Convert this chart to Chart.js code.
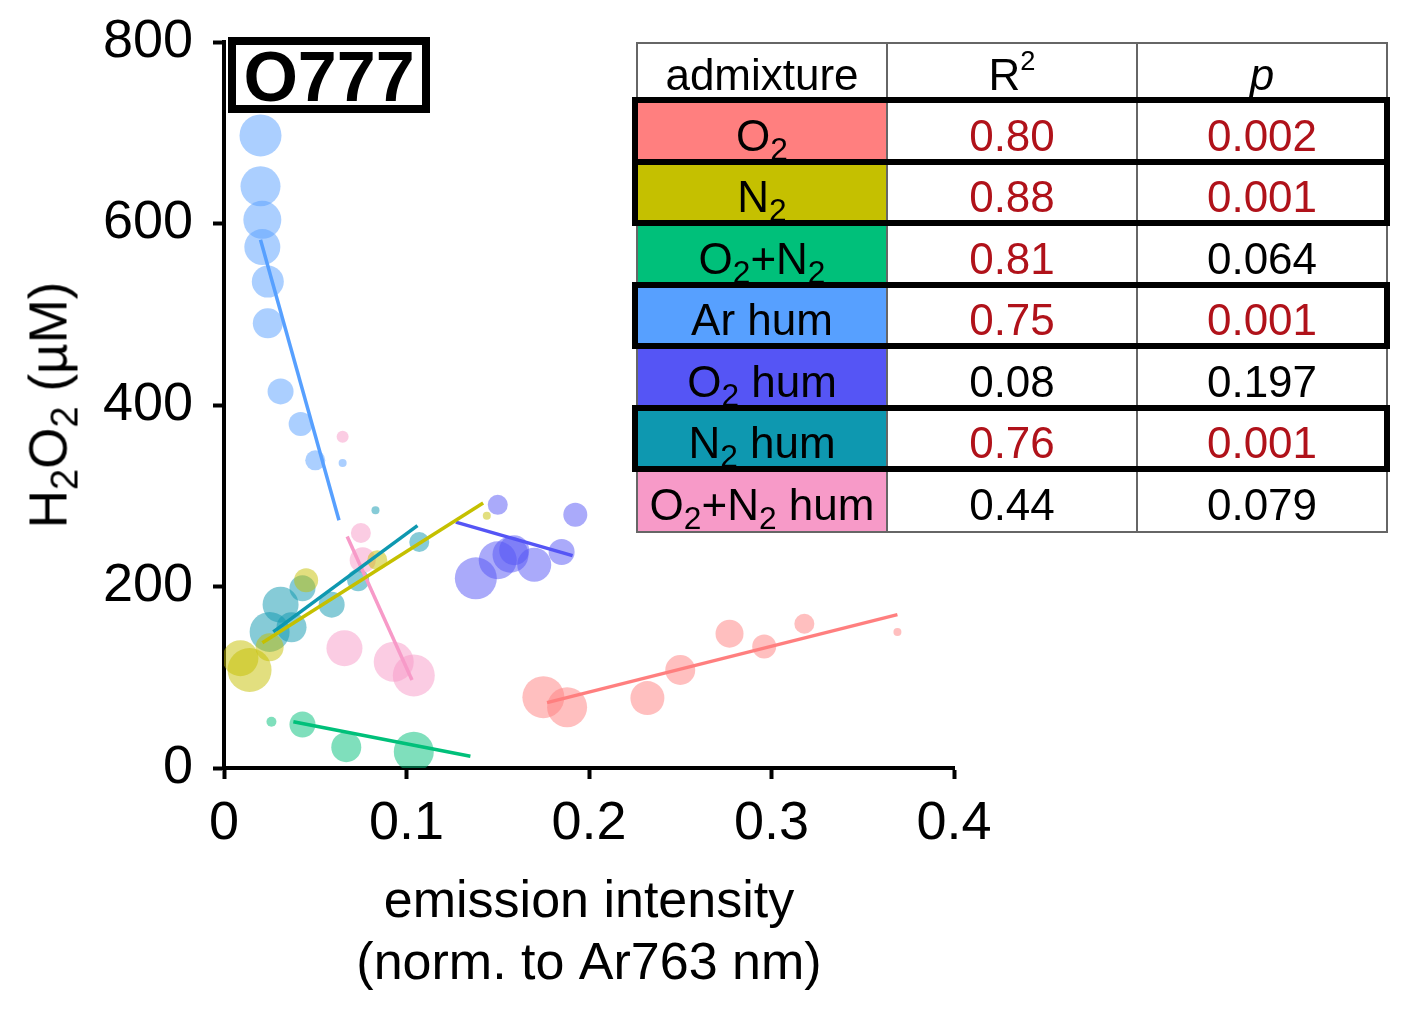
<!DOCTYPE html>
<html>
<head>
<meta charset="utf-8">
<script src="https://cdn.jsdelivr.net/npm/chart.js@4.4.0/dist/chart.umd.min.js"></script>
<style>
  html, body { margin: 0; padding: 0; background: #fff; }
  #wrap { position: relative; width: 1411px; height: 1010px; font-family: "Liberation Sans", Arial, sans-serif; }
  #chart { position: absolute; left: 0; top: 0; }
  sub { font-size: 0.72em; vertical-align: -0.28em; line-height: 0; }
  sup { font-size: 0.62em; vertical-align: 0.75em; line-height: 0; }
  #ytitle {
    position: absolute; left: 48px; top: 405px; white-space: nowrap;
    font-size: 53px; color: #000;
    transform: translate(-50%, -50%) rotate(-90deg);
  }
  #tag {
    position: absolute; left: 228px; top: 37px; width: 186px; height: 60px;
    border: 8px solid #000; background: #fff;
    font-weight: bold; font-size: 70px; line-height: 65px; text-align: center;
    overflow: visible;
  }
  #stats { position: absolute; left: 636px; top: 42px; width: 750px; }
  #stats table { border-collapse: collapse; table-layout: fixed; width: 750px; }
  #stats td { border: 2px solid #666; text-align: center; font-size: 44px; padding: 0; color: #000; white-space: nowrap; box-sizing: border-box; }
  #stats tr.head td { height: 58px; padding-top: 6px; }
  #stats tr.row td { height: 61.5px; padding-top: 8px; }
  .hot { color: #b0121a !important; }
  .frame { position: absolute; border: 6px solid #000; box-sizing: border-box; pointer-events: none; }
</style>
</head>
<body>
<div id="wrap">
  <canvas id="chart" width="1411" height="1010"></canvas>
  <div id="ytitle">H<sub>2</sub>O<sub>2</sub> (µM)</div>
  <div id="tag">O777</div>
  <div id="stats"></div>
</div>
<script>
// series: x = emission intensity, y = H2O2 (uM), size = bubble radius
const seriesNames = ["O2", "N2", "O2+N2", "Ar hum", "O2 hum", "N2 hum", "O2+N2 hum"];
const seriesColors = ["#ff7f7f", "#c5c000", "#00c07a", "#57a0ff", "#5555f5", "#0e98b0", "#f79ac8"];

const o2X = [0.175, 0.188, 0.232, 0.250, 0.277, 0.296, 0.318, 0.369];
const o2Y = [78, 67, 77, 108, 148, 134, 159, 150];
const o2Size = [21, 20, 17, 15, 14, 12, 10, 4];
const o2FitX = [0.177, 0.369];
const o2FitY = [72, 169];

const n2X = [0.009, 0.014, 0.025, 0.045, 0.084, 0.144];
const n2Y = [121, 108, 133, 207, 229, 278];
const n2Size = [18, 22, 14, 12, 10, 4];
const n2FitX = [0.021, 0.142];
const n2FitY = [138, 292];

const o2n2X = [0.026, 0.043, 0.067, 0.104];
const o2n2Y = [51, 48, 23, 18];
const o2n2Size = [5, 13, 15, 20];
const o2n2FitX = [0.038, 0.135];
const o2n2FitY = [51, 13];

const arHumX = [0.020, 0.020, 0.021, 0.021, 0.024, 0.024, 0.031, 0.042, 0.050, 0.065];
const arHumY = [697, 641, 604, 574, 536, 490, 415, 379, 339, 336];
const arHumSize = [21, 20, 19, 18, 16, 15, 13, 12, 10, 4];
const arHumFitX = [0.020, 0.063];
const arHumFitY = [582, 273];

const o2HumX = [0.138, 0.150, 0.157, 0.159, 0.170, 0.185, 0.150, 0.1925];
const o2HumY = [209, 229, 235, 240, 224, 238, 290, 279];
const o2HumSize = [21, 19, 18, 15, 17, 13, 10, 12];
const o2HumFitX = [0.127, 0.191];
const o2HumFitY = [271, 234];

const n2HumX = [0.025, 0.031, 0.037, 0.043, 0.059, 0.0735, 0.107, 0.083];
const n2HumY = [150, 180, 155, 198, 180, 207, 249, 284];
const n2HumSize = [20, 18, 15, 13, 13, 11, 10, 4];
const n2HumFitX = [0.027, 0.106];
const n2HumFitY = [150, 267];

const o2n2HumX = [0.065, 0.075, 0.076, 0.066, 0.093, 0.104];
const o2n2HumY = [365, 259, 229, 132, 117, 102];
const o2n2HumSize = [6, 10, 13, 18, 20, 21];
const o2n2HumFitX = [0.0675, 0.103];
const o2n2HumFitY = [255, 97];

const r2Values = ["0.80", "0.88", "0.81", "0.75", "0.08", "0.76", "0.44"];
const pValues = ["0.002", "0.001", "0.064", "0.001", "0.197", "0.001", "0.079"];

const xTicks = [0, 0.1, 0.2, 0.3, 0.4];
const yTicks = [0, 200, 400, 600, 800];

const allX = [o2X, n2X, o2n2X, arHumX, o2HumX, n2HumX, o2n2HumX];
const allY = [o2Y, n2Y, o2n2Y, arHumY, o2HumY, n2HumY, o2n2HumY];
const allSize = [o2Size, n2Size, o2n2Size, arHumSize, o2HumSize, n2HumSize, o2n2HumSize];
const allFitX = [o2FitX, n2FitX, o2n2FitX, arHumFitX, o2HumFitX, n2HumFitX, o2n2HumFitX];
const allFitY = [o2FitY, n2FitY, o2n2FitY, arHumFitY, o2HumFitY, n2HumFitY, o2n2HumFitY];

function withAlpha(hex, a) {
    const n = parseInt(hex.slice(1), 16);
    return `rgba(${(n >> 16) & 255}, ${(n >> 8) & 255}, ${n & 255}, ${a})`;
}

function subscriptify(name) {
    return name.replace(/([A-Za-z])2/g, "$1<sub>2</sub>");
}

const datasets = [];
seriesNames.forEach((name, i) => {
    datasets.push({
        type: "line",
        label: name + " fit",
        data: allFitX[i].map((x, k) => ({ x: x, y: allFitY[i][k] })),
        borderColor: seriesColors[i],
        borderWidth: 3.5,
        pointRadius: 0,
        fill: false,
        order: 0
    });
    datasets.push({
        type: "bubble",
        label: name,
        data: allX[i].map((x, k) => ({ x: x, y: allY[i][k], r: allSize[i][k] })),
        backgroundColor: withAlpha(seriesColors[i], 0.5),
        borderWidth: 0,
        order: 1
    });
});

Chart.defaults.font.family = "'Liberation Sans', Arial, sans-serif";
Chart.defaults.color = "#000";

new Chart(document.getElementById("chart"), {
    type: "bubble",
    data: { datasets: datasets },
    options: {
        responsive: false,
        animation: false,
        layout: { padding: { left: 0, top: 42, right: 457, bottom: 0 } },
        plugins: { legend: { display: false }, tooltip: { enabled: false } },
        scales: {
            x: {
                type: "linear",
                min: xTicks[0],
                max: xTicks[xTicks.length - 1],
                afterBuildTicks: s => { s.ticks = xTicks.map(v => ({ value: v })); },
                afterFit: s => { s.height = 242; },
                border: { color: "#000", width: 4 },
                grid: { drawOnChartArea: false, drawTicks: true, tickLength: 11, tickWidth: 4, tickColor: "#000" },
                ticks: { font: { size: 54 }, padding: 13, maxRotation: 0 },
                title: {
                    display: true,
                    text: ["emission intensity", "(norm. to Ar763 nm)"],
                    font: { size: 52, lineHeight: 1.2 },
                    padding: { top: 0, bottom: 14 }
                }
            },
            y: {
                type: "linear",
                min: yTicks[0],
                max: yTicks[yTicks.length - 1],
                afterBuildTicks: s => { s.ticks = yTicks.map(v => ({ value: v })); },
                afterFit: s => { s.width = 224; },
                border: { color: "#000", width: 4 },
                grid: { drawOnChartArea: false, drawTicks: true, tickLength: 11, tickWidth: 4, tickColor: "#000" },
                ticks: { font: { size: 54, lineHeight: 0.8 }, padding: 20 }
            }
        }
    }
});

// statistics table (R² and p per admixture)
const headH = 58, rowH = 61.5;
let html = '<table><colgroup><col style="width:250px"><col style="width:250px"><col style="width:250px"></colgroup>';
html += '<tr class="head"><td>admixture</td><td>R<sup>2</sup></td><td><i>p</i></td></tr>';
seriesNames.forEach((name, i) => {
    const r2Hot = parseFloat(r2Values[i]) >= 0.5 ? "hot" : "";
    const pHot = parseFloat(pValues[i]) < 0.05 ? "hot" : "";
    html += `<tr class="row"><td style="background:${seriesColors[i]}">${subscriptify(name)}</td>` +
            `<td class="${r2Hot}">${r2Values[i]}</td><td class="${pHot}">${pValues[i]}</td></tr>`;
});
html += "</table>";
const stats = document.getElementById("stats");
stats.innerHTML = html;

seriesNames.forEach((name, i) => {
    if (parseFloat(pValues[i]) >= 0.05) return;
    const f = document.createElement("div");
    f.className = "frame";
    f.style.left = "-4px";
    f.style.width = "758px";
    f.style.top = (headH + i * rowH - 3) + "px";
    f.style.height = (rowH + 6) + "px";
    stats.appendChild(f);
});
</script>
</body>
</html>
